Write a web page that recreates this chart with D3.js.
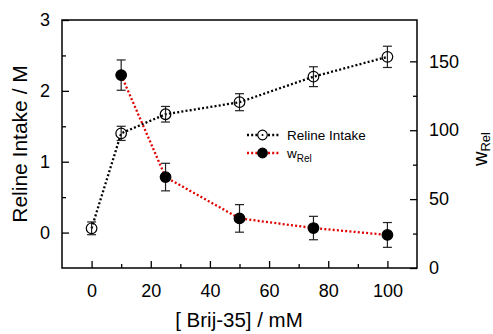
<!DOCTYPE html>
<html lang="en">
<head>
    <meta charset="UTF-8">
    <title>Reline Intake vs Brij-35</title>
    <script src="https://d3js.org/d3.v7.min.js"></script>
    <style>
        body { margin: 0; background: #fff; }
        text { font-family: "Liberation Sans", Arial, sans-serif; fill: #000; }
    </style>
</head>
<body>
<script>
    // data
    var brij = [0, 10, 25, 50, 75, 100];
    var intake = [0.06, 1.40, 1.67, 1.84, 2.20, 2.48];
    var intakeErr = [0.09, 0.10, 0.11, 0.12, 0.14, 0.15];
    var wBrij = [10, 25, 50, 75, 100];
    var wRel = [140, 66, 36, 29, 24];
    var wRelErr = [11, 10, 10, 8.5, 9];

    var xMajor = [0, 20, 40, 60, 80, 100];
    var xMinor = [10, 30, 50, 70, 90];
    var yMajor = [0, 1, 2, 3];
    var yMinor = [0.5, 1.5, 2.5];
    var y2Major = [0, 50, 100, 150];
    var y2Minor = [25, 75, 125];

    var width = 493, height = 334;
    var m = {left: 62, right: 76, top: 20, bottom: 66};
    var iw = width - m.left - m.right, ih = height - m.top - m.bottom;

    var svg = d3.select('body').append('svg')
        .attr('width', width)
        .attr('height', height);
    var g = svg.append('g').attr('transform', 'translate(' + m.left + ',' + m.top + ')');

    var x = d3.scaleLinear().domain([-10, 110]).range([0, iw]);
    var y = d3.scaleLinear().domain([-0.5, 3]).range([ih, 0]);
    var y2 = d3.scaleLinear().domain([0, 180]).range([ih, 0]);

    function styleAxis(sel, fs) {
        sel.select('.domain').remove();
        sel.selectAll('line').attr('stroke', '#000').attr('stroke-width', 1.3);
        sel.selectAll('text').style('font-size', fs).attr('font-family', null).attr('fill', '#000');
    }

    // bottom axis
    g.append('g').attr('transform', 'translate(0,' + ih + ')')
        .call(d3.axisBottom(x).tickValues(xMajor).tickSizeInner(-7).tickSizeOuter(0).tickPadding(16))
        .call(styleAxis, '18px');
    g.append('g').attr('transform', 'translate(0,' + ih + ')')
        .call(d3.axisBottom(x).tickValues(xMinor).tickSizeInner(-4).tickSizeOuter(0).tickFormat(''))
        .call(styleAxis, '18px');

    // left axis
    g.append('g')
        .call(d3.axisLeft(y).tickValues(yMajor).tickSizeInner(-7).tickSizeOuter(0).tickPadding(12).tickFormat(d3.format('d')))
        .call(styleAxis, '18px');
    g.append('g')
        .call(d3.axisLeft(y).tickValues(yMinor).tickSizeInner(-4).tickSizeOuter(0).tickFormat(''))
        .call(styleAxis, '18px');

    // right axis
    g.append('g').attr('transform', 'translate(' + iw + ',0)')
        .call(d3.axisRight(y2).tickValues(y2Major).tickSizeInner(-7).tickSizeOuter(0).tickPadding(12))
        .call(styleAxis, '18px');
    g.append('g').attr('transform', 'translate(' + iw + ',0)')
        .call(d3.axisRight(y2).tickValues(y2Minor).tickSizeInner(-4).tickSizeOuter(0).tickFormat(''))
        .call(styleAxis, '18px');

    // frame
    g.append('rect')
        .attr('width', iw).attr('height', ih)
        .attr('fill', 'none').attr('stroke', '#000').attr('stroke-width', 1.5);

    // axis titles
    svg.append('text')
        .attr('x', m.left + x(50) - 0.5).attr('y', 327)
        .attr('text-anchor', 'middle')
        .style('font-size', '20.5px')
        .text('[ Brij-35] / mM');
    svg.append('text')
        .attr('transform', 'translate(27,' + (m.top + y(1.25)) + ') rotate(-90)')
        .attr('text-anchor', 'middle')
        .style('font-size', '21px')
        .text('Reline Intake / M');
    var wt = svg.append('text')
        .attr('transform', 'translate(487,166) rotate(-90)')
        .attr('text-anchor', 'start')
        .style('font-size', '20px');
    wt.append('tspan').text('w');
    wt.append('tspan').attr('dy', 3).style('font-size', '13px').text('Rel');

    var intakeData = brij.map(function (d, i) { return {x: d, y: intake[i], e: intakeErr[i]}; });
    var wData = wBrij.map(function (d, i) { return {x: d, y: wRel[i], e: wRelErr[i]}; });

    function drawSeries(data, ys, color, filled) {
        var line = d3.line().x(function (d) { return x(d.x); }).y(function (d) { return ys(d.y); });
        g.append('path').datum(data)
            .attr('d', line)
            .attr('fill', 'none')
            .attr('stroke', color)
            .attr('stroke-width', 2.3)
            .attr('stroke-dasharray', '2,2.2');
        var eb = g.append('g').selectAll('g').data(data).enter().append('g')
            .attr('stroke', '#222').attr('stroke-width', 1.2);
        eb.append('line')
            .attr('x1', function (d) { return x(d.x); }).attr('x2', function (d) { return x(d.x); })
            .attr('y1', function (d) { return ys(d.y - d.e); }).attr('y2', function (d) { return ys(d.y + d.e); });
        eb.append('line')
            .attr('x1', function (d) { return x(d.x) - 4.5; }).attr('x2', function (d) { return x(d.x) + 4.5; })
            .attr('y1', function (d) { return ys(d.y + d.e); }).attr('y2', function (d) { return ys(d.y + d.e); });
        eb.append('line')
            .attr('x1', function (d) { return x(d.x) - 4.5; }).attr('x2', function (d) { return x(d.x) + 4.5; })
            .attr('y1', function (d) { return ys(d.y - d.e); }).attr('y2', function (d) { return ys(d.y - d.e); });
        g.append('g').selectAll('circle').data(data).enter().append('circle')
            .attr('cx', function (d) { return x(d.x); })
            .attr('cy', function (d) { return ys(d.y); })
            .attr('r', 5.3)
            .attr('fill', filled ? '#000' : 'none')
            .attr('stroke', '#000')
            .attr('stroke-width', 1.2);
    }

    drawSeries(intakeData, y, '#000', false);
    drawSeries(wData, y2, '#e00000', true);

    // legend
    var legend = [
        {label: 'Reline Intake', color: '#000', filled: false, yy: 135},
        {label: 'w', sub: 'Rel', color: '#e00000', filled: true, yy: 153}
    ];
    var lg = svg.append('g').selectAll('g').data(legend).enter().append('g')
        .attr('transform', function (d) { return 'translate(0,' + d.yy + ')'; });
    lg.append('line')
        .attr('x1', 247).attr('x2', 280)
        .attr('stroke', function (d) { return d.color; })
        .attr('stroke-width', 2.3)
        .attr('stroke-dasharray', '2,2.2');
    lg.append('circle')
        .attr('cx', 262.5).attr('r', 4.8)
        .attr('fill', function (d) { return d.filled ? '#000' : '#fff'; })
        .attr('stroke', '#000').attr('stroke-width', 1.2);
    lg.filter(function (d) { return !d.filled; }).append('circle')
        .attr('cx', 262.5).attr('r', 1).attr('fill', '#000');
    var lt = lg.append('text')
        .attr('x', 287).attr('y', 5)
        .style('font-size', '13.5px');
    lt.append('tspan').text(function (d) { return d.label; });
    lt.filter(function (d) { return d.sub; }).append('tspan')
        .attr('dy', 4).style('font-size', '10px')
        .text(function (d) { return d.sub; });
</script>
</body>
</html>
